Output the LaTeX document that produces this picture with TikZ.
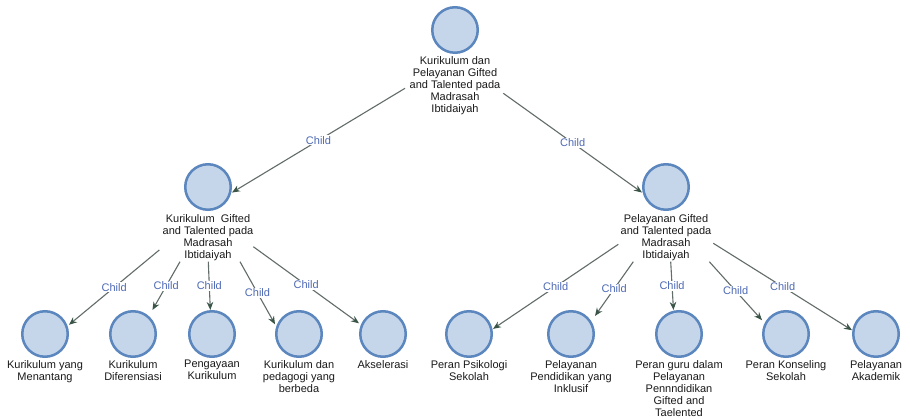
\documentclass[tikz,border=0pt]{standalone}
\usepackage{fontspec}
\setmainfont{Liberation Sans}
\usetikzlibrary{arrows.meta}
\definecolor{ringfill}{HTML}{C5D5EA}
\definecolor{ringline}{HTML}{5B86BE}
\definecolor{edgeline}{HTML}{626C69}
\definecolor{edgetip}{HTML}{3A5548}
\definecolor{childblue}{HTML}{4F6AB5}
\definecolor{txt}{HTML}{1A1A1A}
\begin{document}
\begin{tikzpicture}[x=1pt,y=-1pt,
  bubble/.style={rectangle, minimum size=48pt, inner sep=0pt, outer sep=0pt},
  ring/.style={fill=ringfill, draw=ringline, line width=2.5pt},
  caption/.style={anchor=north, align=center, inner sep=0pt, font=\fontsize{11}{12}\selectfont, text=txt},
  edge/.style={draw=edgeline, line width=1.1pt, -{Stealth[length=8pt,width=6.5pt,color=edgetip]}},
  childlbl/.style={midway, fill=white, inner sep=1pt, text=childblue, font=\fontsize{11}{12}\selectfont}
]
\useasboundingbox[fill=white] (0,0) rectangle (910,419);

% circle holders (square bounds)
\node[bubble] (r) at (455,30) {};
\node[bubble] (L) at (208,187) {};
\node[bubble] (R) at (666,187) {};
\node[bubble] (a1) at (45,334) {};
\node[bubble] (a2) at (133,334) {};
\node[bubble] (a3) at (212,334) {};
\node[bubble] (a4) at (299,334) {};
\node[bubble] (a5) at (383,334) {};
\node[bubble] (b1) at (469,334) {};
\node[bubble] (b2) at (571,334) {};
\node[bubble] (b3) at (679,334) {};
\node[bubble] (b4) at (786,334) {};
\node[bubble] (b5) at (876,334) {};

\foreach \n in {r,L,R,a1,a2,a3,a4,a5,b1,b2,b3,b4,b5}
  \draw[ring] (\n.center) circle[radius=22.75pt];

% captions
\node[caption] (rt) at (455,56) {Kurikulum dan\\Pelayanan Gifted\\and Talented pada\\Madrasah\\Ibtidaiyah};
\node[caption] (Lt) at (208,214) {Kurikulum\ \ Gifted\\and Talented pada\\Madrasah\\Ibtidaiyah};
\node[caption] (Rt) at (666,214) {Pelayanan Gifted\\and Talented pada\\Madrasah\\Ibtidaiyah};
\node[caption] (a1t) at (45,360) {Kurikulum yang\\Menantang};
\node[caption] (a2t) at (133,360) {Kurikulum\\Diferensiasi};
\node[caption] (a3t) at (212,360) {Pengayaan\\Kurikulum};
\node[caption] (a4t) at (299,360) {Kurikulum dan\\pedagogi yang\\berbeda};
\node[caption] (a5t) at (383,360) {Akselerasi};
\node[caption] (b1t) at (469,360) {Peran Psikologi\\Sekolah};
\node[caption] (b2t) at (571,360) {Pelayanan\\Pendidikan yang\\Inklusif};
\node[caption] (b3t) at (679,360) {Peran guru dalam\\Pelayanan\\Pennndidikan\\Gifted and\\Taelented};
\node[caption] (b4t) at (786,360) {Peran Konseling\\Sekolah};
\node[caption] (b5t) at (876,360) {Pelayanan\\Akademik};

% connectors
\draw[edge] ([shift={(-50,58.3)}]r.center) -- node[childlbl]{Child} (L.-13.5);
\draw[edge] ([shift={(48.3,63.3)}]r.center) -- node[childlbl]{Child} (R.193.5);

\draw[edge] ([shift={(-48.7,63)}]L.center) -- node[childlbl]{Child} (a1.21.1);
\draw[edge] ([shift={(-28,74.7)}]L.center) -- node[childlbl]{Child} (a2.51.8);
\draw[edge] ([shift={(0.3,74.7)}]L.center) -- node[childlbl]{Child} (a3.94.6);
\draw[edge] ([shift={(32,74.7)}]L.center) -- node[childlbl]{Child} (a4.158.6);
\draw[edge] ([shift={(45.3,59.7)}]L.center) -- node[childlbl]{Child} (a5.156);

\draw[edge] ([shift={(-47.7,57.3)}]R.center) -- node[childlbl]{Child} (b1.12.4);
\draw[edge] ([shift={(-32.7,74.7)}]R.center) -- node[childlbl]{Child} (b2.37.2);
\draw[edge] ([shift={(4.7,74.7)}]R.center) -- node[childlbl]{Child} (b3.103.4);
\draw[edge] ([shift={(43.3,74.7)}]R.center) -- node[childlbl]{Child} (b4.150.5);
\draw[edge] ([shift={(47.3,56.3)}]R.center) -- node[childlbl]{Child} (b5.171.8);
\end{tikzpicture}
\end{document}
